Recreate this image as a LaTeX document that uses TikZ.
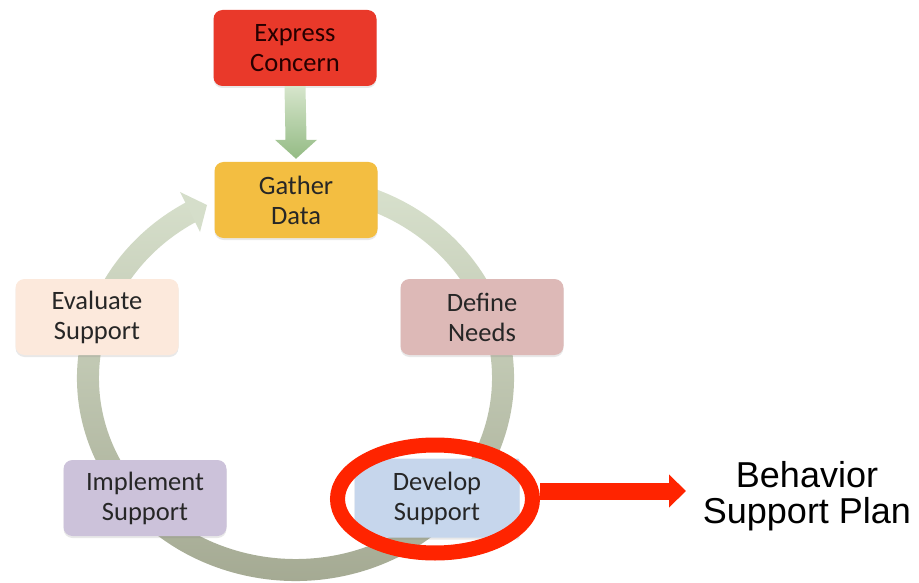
\documentclass[tikz,border=0pt]{standalone}
\usepackage{fontspec}
\setmainfont{Carlito}
\newfontfamily\arialfont{Liberation Sans}
\usetikzlibrary{calc,shadows,shapes.geometric,arrows.meta}
\definecolor{ecfill}{HTML}{E9392A}
\definecolor{gdfill}{HTML}{F3BE41}
\definecolor{dnfill}{HTML}{DDB9B7}
\definecolor{dsfill}{HTML}{C6D6EC}
\definecolor{isfill}{HTML}{CCC2DA}
\definecolor{esfill}{HTML}{FCE9DC}
\definecolor{txt}{HTML}{262626}
\definecolor{ringtop}{HTML}{D8E1CD}
\definecolor{ringbot}{HTML}{A2A790}
\definecolor{gtop}{HTML}{D6E5CC}
\definecolor{gbot}{HTML}{94BB84}
\definecolor{redc}{HTML}{FF2400}
\begin{document}
\begin{tikzpicture}[x=1pt,y=-1pt,
  stepbox/.style={rounded corners=9pt, minimum width=163pt, minimum height=76pt,
    align=center, font=\fontsize{26.5}{30}\selectfont, text=txt,
    drop shadow={opacity=0.18,shadow xshift=0pt,shadow yshift=-2pt}}]
\useasboundingbox (0,0) rectangle (919,583);
\coordinate (c) at (295.5,378);
% ring
\shade[top color=ringtop, bottom color=ringbot]
  (c) ++(-75:218.5 and 203) arc[start angle=-75,end angle=240,x radius=218.5,y radius=203]
  -- ($(c)+(240:196.5 and 181)$) arc[start angle=240,end angle=-75,x radius=196.5,y radius=181]
  -- cycle;
\fill[ringtop!95!ringbot] (180,192) -- (207,205) -- (200,232) -- cycle;
% boxes
\node[stepbox, fill=ecfill, text=black!85!red] (ec) at (295,48) {Express\\Concern};
\node[stepbox, fill=gdfill] (gd) at (296,200) {Gather\\Data};
\node[stepbox, fill=dnfill] (dn) at (482,317) {Define\\Needs};
\node[stepbox, fill=dsfill, rounded corners=2pt, minimum width=165pt, minimum height=79pt] (ds) at (437,498) {Develop\\Support};
\node[stepbox, fill=isfill] (is) at (145,498) {Implement\\Support};
\node[stepbox, fill=esfill] (es) at (97,317) {Evaluate\\Support};
% green arrow
\shade[top color=gtop, bottom color=gbot]
  ($(ec.south)+(-10.5,0)$) -- ($(ec.south)+(10.5,0)$) -- ($(gd.north)+(10.5,-22)$)
  -- ($(gd.north)+(21,-22)$) -- ($(gd.north)+(0,-3)$) -- ($(gd.north)+(-21,-22)$)
  -- ($(gd.north)+(-10.5,-22)$) -- cycle;
% highlight
\node[ellipse, draw=redc, line width=15pt, minimum width=195pt, minimum height=108pt] (hl) at (435,499) {};
\node[font=\arialfont\fontsize{36}{36}\selectfont, align=center, inner sep=0pt] (bsp) at (807,496) {Behavior\\Support Plan};
\coordinate (aend) at (686,491);
\draw[redc, line width=17pt, -{Triangle[width=32pt,length=17pt]}] (hl.east |- aend) -- (aend);
\end{tikzpicture}
\end{document}
